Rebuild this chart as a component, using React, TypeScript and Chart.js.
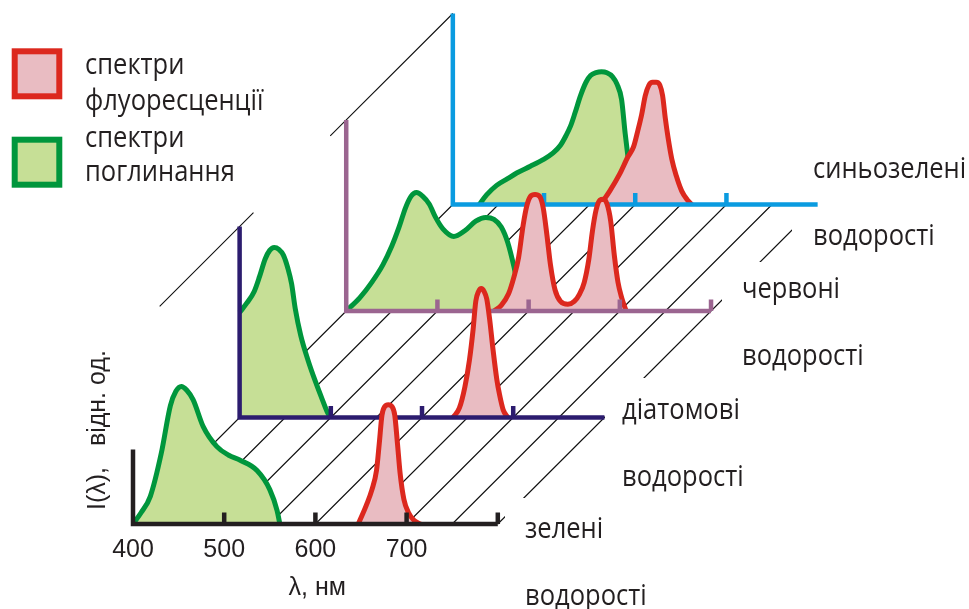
import React, { useEffect, useRef } from "react";
import { Chart, registerables } from "chart.js";
Chart.register(...registerables);

// ---------- data ----------
// panels from front (0) to back (3)
const PANEL_NAMES = [["зелені", "водорості"], ["діатомові", "водорості"], ["червоні", "водорості"], ["синьозелені", "водорості"]];

// absorption spectra (wavelength nm, relative intensity)
const ABS_WL_0 = [400, 409, 419, 431, 441, 447, 453, 459, 466, 477, 492, 505, 517, 536, 550, 558, 561];
const ABS_I_0 = [0, 6, 14.5, 37, 62, 69.5, 72, 70, 65, 51, 40.5, 36, 33.5, 28, 18, 7, 0];
const ABS_WL_1 = [400, 408, 416, 422, 428, 433, 438, 443, 448, 453, 457, 461, 467, 475, 483, 491, 497, 500];
const ABS_I_1 = [55, 60, 66, 74, 83, 87.5, 89, 88, 85, 78, 70, 57, 43, 30, 19, 9, 2, 0];
const ABS_WL_2 = [400, 415, 428, 440, 450, 458, 465, 471, 477, 484, 491, 498, 506, 518, 530, 542, 553, 562, 570, 577, 584, 590, 596];
const ABS_I_2 = [0, 7, 15, 24, 34, 44, 54, 60, 62, 60, 56, 49, 43, 39, 42, 47, 49, 48, 44, 36, 23, 9, 0];
const ABS_WL_3 = [429, 437, 448, 460, 470, 485, 499, 510, 518, 524, 529, 534, 540, 546, 551, 557, 563, 569, 575, 580, 585, 589, 592, 596, 601];
const ABS_I_3 = [0, 5, 10, 13.5, 16.5, 20, 23.5, 27, 31, 36, 41, 48, 57, 64, 67.5, 69, 69.5, 69, 67, 63, 55, 37, 25, 10, 0];

// fluorescence spectra
const FLU_WL_0 = [647, 656, 662, 667, 670, 673, 676, 680, 684, 687, 690, 693, 697, 702, 708, 715];
const FLU_I_0 = [0, 10, 18, 28, 42, 57, 61.5, 62.5, 61.5, 57, 42, 26, 13, 6, 2, 0];
const FLU_WL_1 = [634, 641, 647, 652, 656, 659, 662, 665, 668, 671, 674, 678, 682, 685, 689, 694];
const FLU_I_1 = [0, 5, 16, 30, 46, 61, 66, 67.5, 66, 62, 52, 35, 20, 12, 4, 0];
const FLU_WL_2 = [562, 570, 578, 584, 589, 594, 598, 602, 607, 612, 616, 620, 624, 629, 635, 643, 650, 656, 661, 666, 670, 674, 678, 682, 686, 690, 694, 698, 702, 707];
const FLU_I_2 = [0, 3, 9, 18, 28, 45, 55, 60, 61, 60, 54, 40, 24, 11, 5, 3.5, 5, 9, 15, 27, 42, 53, 58, 58.5, 56, 47, 29, 15, 7, 0];
const FLU_WL_3 = [562, 572, 583, 592, 598, 603, 607, 611, 615, 619, 623, 627, 630, 633, 636, 640, 645, 651, 657, 662];
const FLU_I_3 = [0, 7, 16, 25, 30, 39, 47, 57, 62.5, 64, 64, 62.5, 57, 45, 35, 24, 15, 7, 2.5, 0];

const ABS = [[ABS_WL_0, ABS_I_0], [ABS_WL_1, ABS_I_1], [ABS_WL_2, ABS_I_2], [ABS_WL_3, ABS_I_3]];
const FLU = [[FLU_WL_0, FLU_I_0], [FLU_WL_1, FLU_I_1], [FLU_WL_2, FLU_I_2], [FLU_WL_3, FLU_I_3]];

// axes of each panel
const AXIS_TOP = [39, 100, 100, 100];
const AXIS_START = 400;
const AXIS_END = 800;
const PANEL_TICKS = [[500, 600, 700, 800], [500, 600, 700], [500, 600, 700, 800], [500, 600, 700]];
const TICK_LABELS = ["400", "500", "600", "700"];
const TICK_LABEL_WL = [400, 500, 600, 700];
const HATCH_WL = [400, 450, 500, 550, 600, 650, 700, 750, 800];
// back-wall top line, in panel-index units
const TOP_LINE_SEGMENTS = [[0.25, 1.13], [1.85, 3.0]];

// ---------- layout / style ----------
const W = 969;
const H = 609;
const PX_PER_NM = 0.912;
const PX_PER_UNIT = 1.91;
const ORIGIN_X = 133;
const ORIGIN_Y = 524;
const STEP_NM = 116.9;
const STEP_UNIT = 55.76;
const TICK_H = 6;

const AXIS_COLORS = ["#231f20", "#2c1c6f", "#9b6590", "#0a9be0"];
const GREEN_LINE = "#00963c";
const GREEN_FILL = "#c6df96";
const RED_LINE = "#dc281e";
const RED_FILL = "#e9bcc2";
const TEXT = "#231f20";
const LABEL_FONT = "29px 'Open Sans'";
const LABEL_SX = 0.88;
const ARIAL = "25px 'Liberation Sans', Arial, sans-serif";

const RIGHT_LABELS: [number, number, number][] = [
  // panel, x, baseline y of first line (second line +67)
  [3, 813, 178],
  [2, 742, 298],
  [1, 622, 419],
  [0, 525, 538],
];
const LABEL_BOXES = [
  [792, 150, 177, 108],
  [722, 262, 247, 113],
  [605, 378, 364, 114],
  [505, 498, 464, 111],
];

function pts(wl: number[], I: number[], p: number) {
  return wl.map((w, i) => ({ x: w + p * STEP_NM, y: I[i] + p * STEP_UNIT }));
}

function drawScaledText(ctx: CanvasRenderingContext2D, t: string, x: number, y: number) {
  ctx.save();
  ctx.translate(x, y);
  ctx.scale(LABEL_SX, 1);
  ctx.fillText(t, 0, 0);
  ctx.restore();
}

export default function App() {
  const ref = useRef<HTMLCanvasElement | null>(null);
  useEffect(() => {
    document.body.style.margin = "0";
    const canvas = ref.current!;
    const datasets: any[] = [];

    // hatch lines on the floor between panels
    const hatch: any[] = [];
    for (let p = 0; p < 3; p++) {
      for (const w of HATCH_WL) {
        hatch.push({ x: w + p * STEP_NM, y: p * STEP_UNIT });
        hatch.push({ x: w + (p + 1) * STEP_NM, y: (p + 1) * STEP_UNIT });
        hatch.push({ x: w + (p + 1) * STEP_NM, y: null });
      }
    }
    datasets.push({ data: hatch, borderColor: "#111111", borderWidth: 1.1, pointRadius: 0, showLine: true, fill: false, tension: 0 });

    const top: any[] = [];
    for (const [a, b] of TOP_LINE_SEGMENTS) {
      top.push({ x: AXIS_START + a * STEP_NM, y: AXIS_TOP[1] + a * STEP_UNIT });
      top.push({ x: AXIS_START + b * STEP_NM, y: AXIS_TOP[1] + b * STEP_UNIT });
      top.push({ x: AXIS_START + b * STEP_NM, y: null });
    }
    datasets.push({ data: top, borderColor: "#111111", borderWidth: 1.1, pointRadius: 0, showLine: true, fill: false, tension: 0 });

    for (let p = 3; p >= 0; p--) {
      const base = p * STEP_UNIT;
      datasets.push({
        data: pts(ABS[p][0], ABS[p][1], p),
        borderColor: GREEN_LINE, backgroundColor: GREEN_FILL, borderWidth: 5,
        fill: { value: base }, pointRadius: 0, showLine: true, cubicInterpolationMode: "monotone", borderJoinStyle: "round",
      });
      datasets.push({
        data: pts(FLU[p][0], FLU[p][1], p),
        borderColor: RED_LINE, backgroundColor: RED_FILL, borderWidth: 5,
        fill: { value: base }, pointRadius: 0, showLine: true, cubicInterpolationMode: "monotone", borderJoinStyle: "round",
      });
      const ax: any[] = [
        { x: AXIS_START + p * STEP_NM, y: AXIS_TOP[p] + base },
        { x: AXIS_START + p * STEP_NM, y: base },
        { x: AXIS_END + p * STEP_NM, y: base },
        { x: AXIS_END + p * STEP_NM, y: null },
      ];
      for (const t of PANEL_TICKS[p]) {
        ax.push({ x: t + p * STEP_NM, y: base });
        ax.push({ x: t + p * STEP_NM, y: base + TICK_H });
        ax.push({ x: t + p * STEP_NM, y: null });
      }
      datasets.push({ data: ax, borderColor: AXIS_COLORS[p], borderWidth: 4.5, pointRadius: 0, showLine: true, fill: false, tension: 0, borderJoinStyle: "miter" });
    }
    const N = datasets.length;
    datasets.forEach((d, i) => (d.order = N - i));

    const xmin = AXIS_START - ORIGIN_X / PX_PER_NM;
    const ymax = ORIGIN_Y / PX_PER_UNIT;

    const textPlugin = {
      id: "texts",
      afterDatasetDraw(chart: any, args: any) {
        if (args.index !== 1) return;
        const ctx = chart.ctx as CanvasRenderingContext2D;
        ctx.save();
        ctx.fillStyle = "#ffffff";
        for (const [x, y, w, h] of LABEL_BOXES) ctx.fillRect(x, y, w, h);
        ctx.fillStyle = TEXT;
        ctx.font = LABEL_FONT;
        ctx.textBaseline = "alphabetic";
        ctx.textAlign = "left";
        for (const [p, x, y] of RIGHT_LABELS) {
          drawScaledText(ctx, PANEL_NAMES[p][0], x, y);
          drawScaledText(ctx, PANEL_NAMES[p][1], x, y + 67);
        }
        ctx.restore();
      },
      afterDraw(chart: any) {
        const ctx = chart.ctx as CanvasRenderingContext2D;
        const xs = chart.scales.x;
        ctx.save();
        // legend
        ctx.lineWidth = 6;
        ctx.fillStyle = RED_FILL; ctx.strokeStyle = RED_LINE;
        ctx.fillRect(14.7, 51.3, 44.6, 45); ctx.strokeRect(14.7, 51.3, 44.6, 45);
        ctx.fillStyle = GREEN_FILL; ctx.strokeStyle = GREEN_LINE;
        ctx.fillRect(14.7, 139.7, 44.6, 45); ctx.strokeRect(14.7, 139.7, 44.6, 45);
        ctx.fillStyle = TEXT;
        ctx.font = LABEL_FONT;
        drawScaledText(ctx, "спектри", 85, 74);
        drawScaledText(ctx, "флуоресценції", 85, 110);
        drawScaledText(ctx, "спектри", 85, 147);
        drawScaledText(ctx, "поглинання", 85, 181);
        // tick labels
        ctx.font = ARIAL;
        ctx.textAlign = "center";
        TICK_LABELS.forEach((t, i) => ctx.fillText(t, xs.getPixelForValue(TICK_LABEL_WL[i]), 557));
        ctx.fillText("λ, нм", xs.getPixelForValue(602), 595);
        // y title
        ctx.save();
        ctx.translate(105, 510);
        ctx.rotate(-Math.PI / 2);
        ctx.textAlign = "left";
        ctx.fillText("I(λ),   відн. од.", 0, 0);
        ctx.restore();
        ctx.restore();
      },
    };

    const chart = new Chart(canvas, {
      type: "scatter",
      data: { datasets },
      options: {
        animation: false,
        responsive: false,
        devicePixelRatio: 1,
        layout: { padding: 0 },
        scales: {
          x: { type: "linear", display: false, min: xmin, max: xmin + W / PX_PER_NM },
          y: { type: "linear", display: false, max: ymax, min: ymax - H / PX_PER_UNIT },
        },
        plugins: { legend: { display: false }, tooltip: { enabled: false } },
        events: [],
      },
      plugins: [textPlugin],
    });
    return () => chart.destroy();
  }, []);
  return (
    <div style={{ position: "absolute", left: 0, top: 0, width: W, height: H, background: "#fff" }}>
      <canvas ref={ref} width={W} height={H} style={{ width: W, height: H, display: "block" }} />
    </div>
  );
}
